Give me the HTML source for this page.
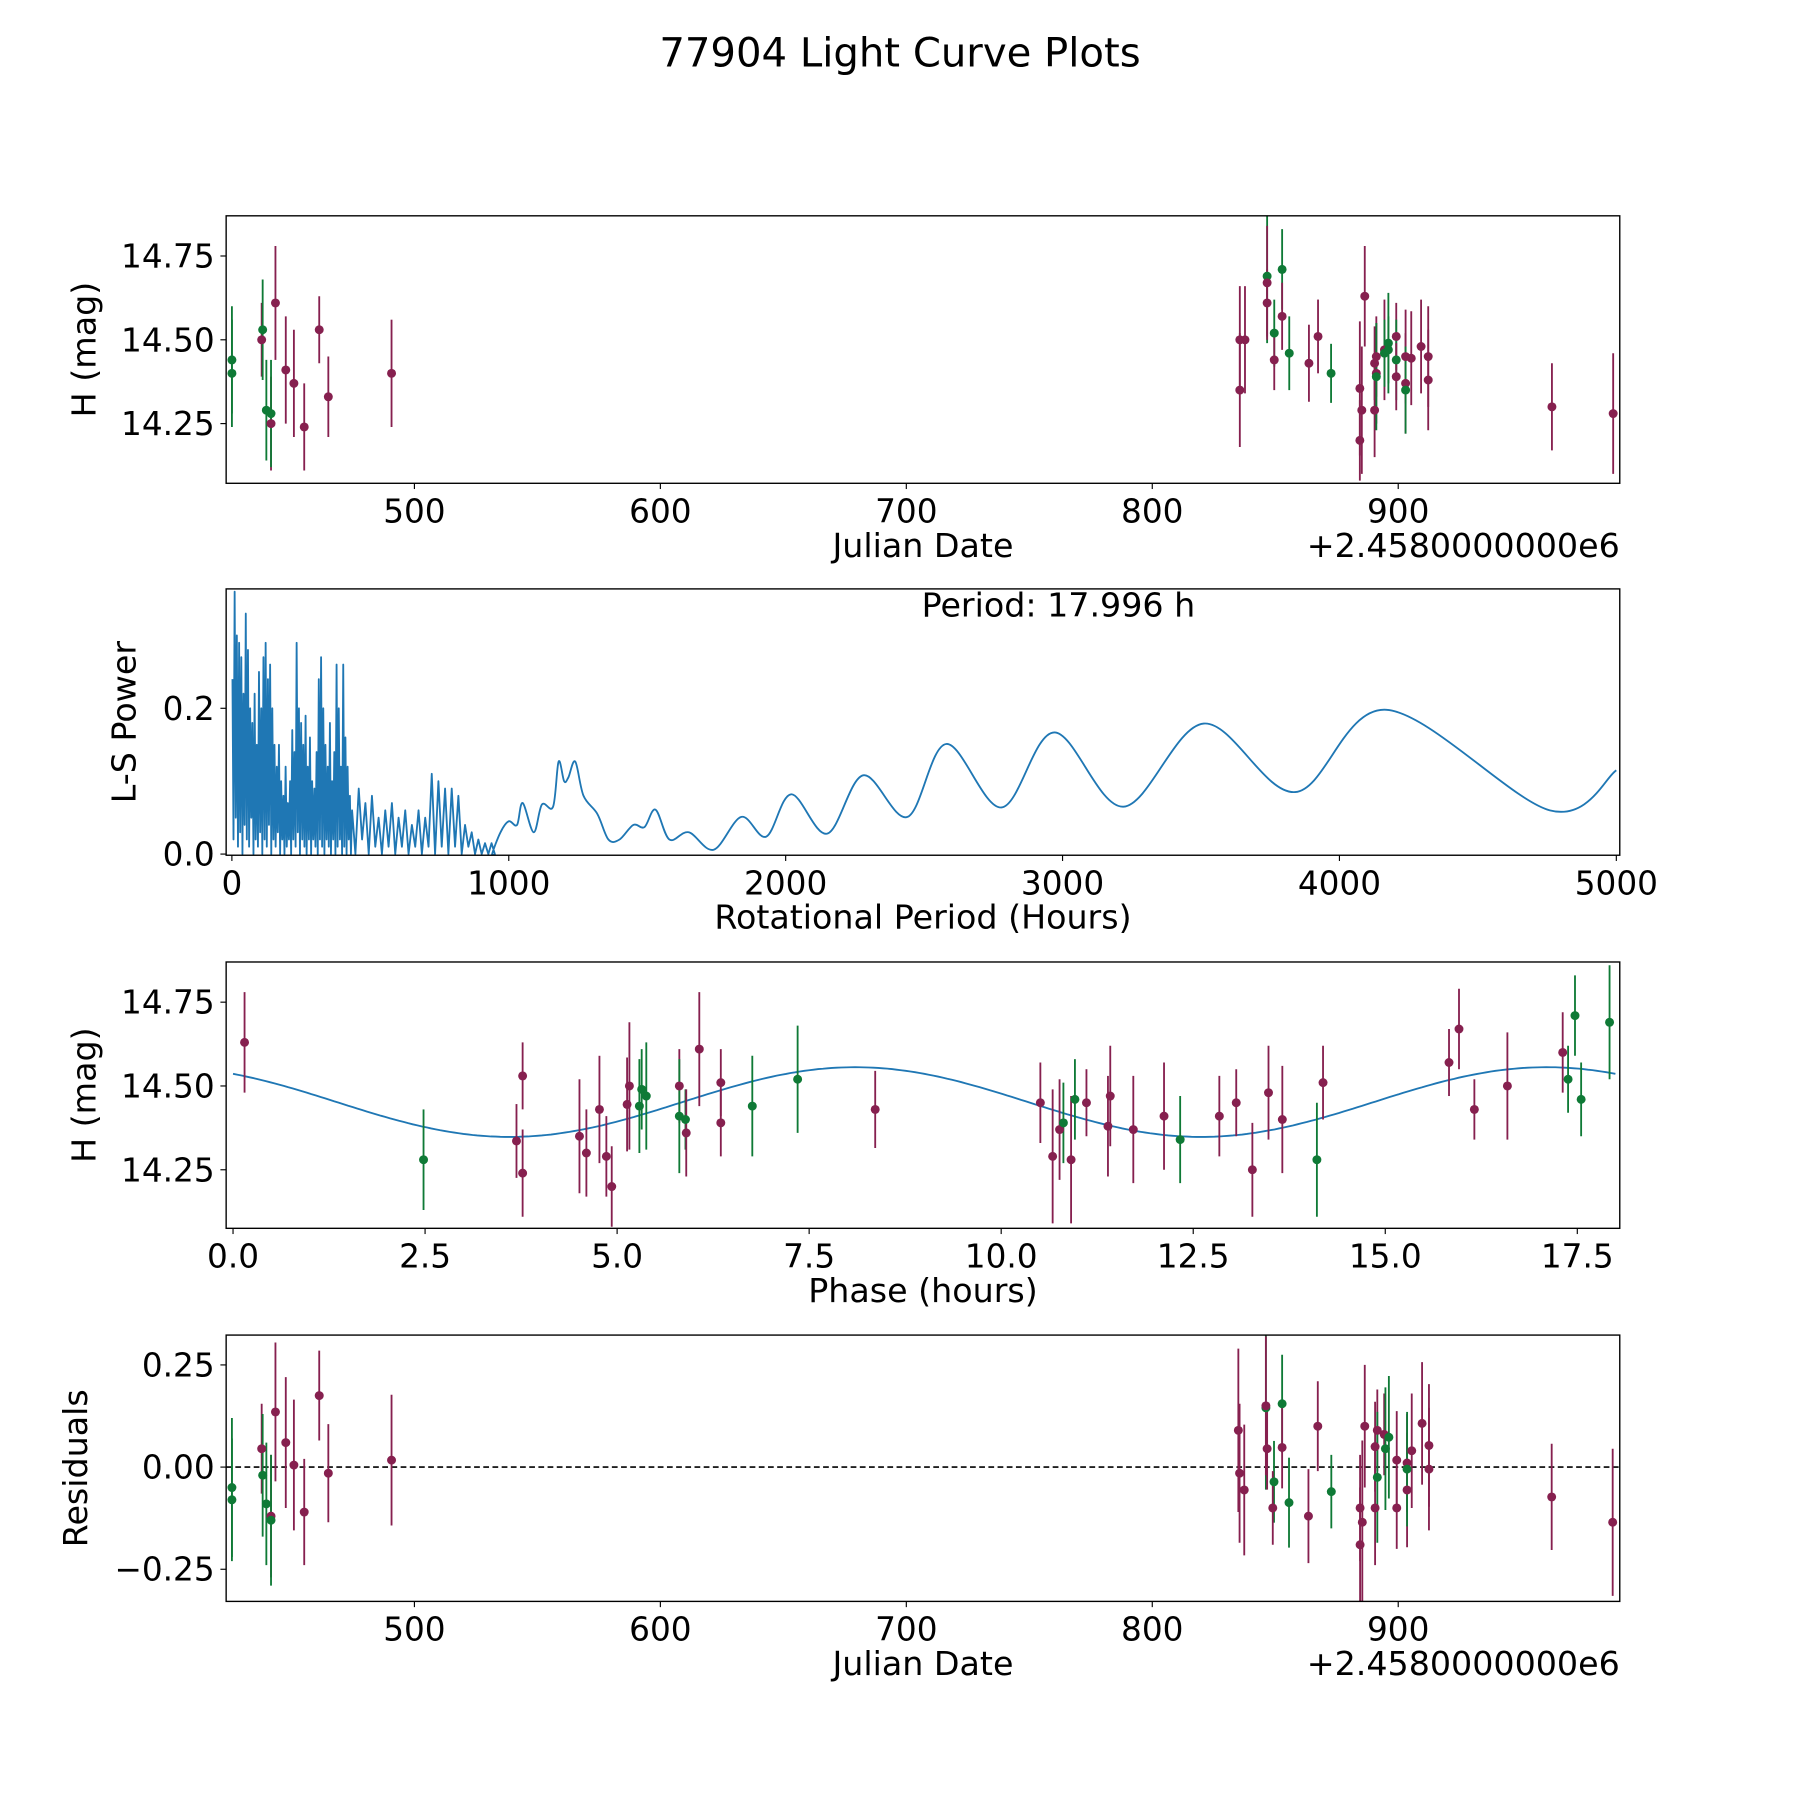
<!DOCTYPE html>
<html><head><meta charset="utf-8"><style>
html,body{margin:0;padding:0;background:#fff;}
svg{display:block;font-family:"DejaVu Sans","Liberation Sans",sans-serif;}
</style></head><body>
<svg id="fig" width="1800" height="1800" viewBox="0 0 1568 1568" xmlns="http://www.w3.org/2000/svg">
<text x="784" y="58" font-size="35" text-anchor="middle">77904 Light Curve Plots</text>
</svg>
<script>
// ---------- data ----------
const jd1 = [425.8,425.8,437.9,438.3,439.8,441.7,441.7,443.5,447.7,451.0,455.2,461.3,465.0,490.7,
 835.6,835.6,837.7,846.7,846.7,846.7,849.6,849.6,852.8,852.8,855.7,863.7,867.4,872.7,884.4,884.4,885.2,886.4,890.4,890.4,891.1,891.1,891.1,894.4,894.4,896.0,896.0,899.2,899.2,899.2,903.0,903.0,903.0,905.3,909.3,912.2,912.2,962.5,987.4];
const mag1 = [14.44,14.40,14.50,14.53,14.29,14.25,14.28,14.61,14.41,14.37,14.24,14.53,14.33,14.40,
 14.35,14.50,14.50,14.69,14.67,14.61,14.52,14.44,14.71,14.57,14.46,14.43,14.51,14.40,14.355,14.20,14.29,14.63,14.43,14.29,14.45,14.40,14.39,14.47,14.46,14.49,14.47,14.51,14.44,14.39,14.45,14.37,14.35,14.445,14.48,14.45,14.38,14.30,14.28];
const err1 = [0.16,0.16,0.11,0.15,0.15,0.14,0.16,0.17,0.16,0.16,0.13,0.10,0.12,0.16,
 0.17,0.16,0.16,0.2,0.17,0.1,0.1,0.09,0.12,0.1,0.11,0.115,0.11,0.088,0.2,0.12,0.19,0.15,0.11,0.14,0.12,0.15,0.16,0.15,0.1,0.15,0.1,0.1,0.12,0.1,0.14,0.15,0.13,0.14,0.14,0.15,0.15,0.13,0.18];
const grp1 = ["g","g","m","g","g","m","g","m","m","m","m","m","m","m",
 "m","m","m","g","m","m","g","m","g","m","g","m","m","g","m","m","m","m","m","m","m","m","g","m","g","g","g","m","g","m","m","m","g","m","m","m","m","m","m"];

const periods = [];
const power = [0.24,0.02,0.36,0.05,0.3,0.01,0.29,0.03,0.27,0.0,0.22,0.04,0.33,0.02,0.28,0.01,0.2,0.05,0.18,0.0,0.22,0.02,0.15,0.01,0.25,0.03,0.2,0.0,0.27,0.02,0.29,0.01,0.24,0.04,0.26,0.0,0.2,0.02,0.15,0.01,0.12,0.03,0.15,0.0,0.1,0.02,0.08,0.0,0.12,0.01,0.07,0.02,0.1,0.0,0.17,0.02,0.14,0.01,0.29,0.03,0.2,0.0,0.18,0.02,0.15,0.01,0.19,0.0,0.12,0.02,0.16,0.0,0.1,0.02,0.09,0.01,0.14,0.0,0.24,0.02,0.27,0.01,0.2,0.0,0.15,0.02,0.12,0.01,0.18,0.0,0.1,0.02,0.14,0.0,0.26,0.01,0.2,0.02,0.12,0.0,0.26,0.01,0.16,0.0,0.12,0.02,0.08,0.0,
 0.06,0.0,0.09,0.02,0.07,0.0,0.08,0.01,0.05,0.0,0.06,0.01,0.07,0.0,0.05,0.01,0.06,0.0,0.04,0.01,0.06,0.0,0.05,0.01,0.11,0.0,0.1,0.01,0.09,0.0,0.09,0.01,0.08,0.0,0.04,0.01,0.03,0.0,0.02,0.0,0.015,0.0,0.015,0.0];
const pLong = [940,970,1000,1030,1050,1090,1120,1160,1180,1200,1215,1240,1270,1320,1360,1400,1450,1490,1530,1580,1650,1740,1840,1930,2020,2150,2280,2440,2580,2780,2970,3220,3510,3840,4170,4760,5000];
const powLong = [0.0,0.03,0.045,0.04,0.07,0.03,0.068,0.065,0.127,0.10,0.105,0.127,0.08,0.055,0.02,0.02,0.04,0.037,0.061,0.02,0.03,0.006,0.051,0.024,0.082,0.028,0.108,0.051,0.151,0.064,0.167,0.065,0.179,0.085,0.198,0.06,0.115];

const phase3 = [0.15,2.48,3.69,3.77,3.77,4.51,4.60,4.77,4.86,4.93,5.13,5.16,5.29,5.32,5.38,5.81,5.81,5.89,5.90,6.07,6.35,6.35,6.76,7.35,8.36,10.51,10.67,10.76,10.81,10.91,10.96,11.11,11.39,11.42,11.72,12.12,12.33,12.84,13.06,13.27,13.48,13.66,14.11,14.19,15.83,15.96,16.16,16.59,17.31,17.38,17.47,17.55,17.92];
const mag3 = [14.63,14.28,14.336,14.53,14.24,14.35,14.30,14.43,14.29,14.20,14.445,14.50,14.44,14.49,14.47,14.50,14.41,14.40,14.36,14.61,14.51,14.39,14.44,14.52,14.43,14.45,14.29,14.37,14.39,14.28,14.46,14.45,14.38,14.47,14.37,14.41,14.34,14.41,14.45,14.25,14.48,14.40,14.28,14.51,14.57,14.67,14.43,14.50,14.60,14.52,14.71,14.46,14.69];
const err3 = [0.15,0.15,0.11,0.10,0.13,0.17,0.13,0.16,0.12,0.12,0.14,0.19,0.14,0.12,0.16,0.11,0.17,0.09,0.13,0.17,0.10,0.10,0.15,0.16,0.115,0.12,0.2,0.15,0.12,0.19,0.12,0.10,0.15,0.15,0.16,0.16,0.13,0.12,0.10,0.14,0.14,0.16,0.17,0.11,0.10,0.12,0.09,0.16,0.12,0.10,0.12,0.11,0.17];
const grp3 = ["m","g","m","m","m","m","m","m","m","m","m","m","g","g","g","m","g","g","m","m","m","m","g","g","m","m","m","m","g","m","g","m","m","m","m","m","g","m","m","m","m","m","g","m","m","m","m","m","m","g","g","g","g"];
const modelParams = [14.452, 0.104, 8.1, 9.0]; // mean, amplitude, phase of max, period

const jd4 = [425.8,425.8,437.9,438.3,439.8,441.7,441.7,443.5,447.7,451.0,455.2,461.3,465.0,490.7,
 835.0,835.5,837.4,846.2,846.2,846.7,849.5,849.0,852.8,852.8,855.6,863.5,867.3,872.8,884.5,884.5,885.4,886.4,890.6,890.6,891.5,891.5,894.3,894.8,896.2,899.4,899.4,903.6,903.6,903.6,905.5,909.7,912.5,912.5,962.4,987.2];
const res4 = [-0.05,-0.08,0.045,-0.02,-0.09,-0.12,-0.13,0.135,0.06,0.005,-0.11,0.175,-0.015,0.017,
 0.09,-0.015,-0.056,0.145,0.15,0.045,-0.036,-0.10,0.155,0.048,-0.087,-0.12,0.10,-0.06,-0.10,-0.19,-0.135,0.10,0.05,-0.10,0.09,-0.025,0.08,0.045,0.073,0.017,-0.10,0.01,-0.056,-0.005,0.04,0.107,0.053,-0.005,-0.073,-0.135];
const err4 = [0.17,0.15,0.11,0.15,0.15,0.15,0.16,0.17,0.16,0.16,0.13,0.11,0.12,0.16,
 0.2,0.17,0.16,0.2,0.17,0.1,0.1,0.09,0.12,0.1,0.11,0.115,0.11,0.09,0.13,0.14,0.2,0.15,0.11,0.14,0.1,0.16,0.1,0.15,0.15,0.12,0.1,0.12,0.14,0.14,0.14,0.15,0.15,0.15,0.13,0.18];
const grp4 = ["g","g","m","g","g","m","g","m","m","m","m","m","m","m",
 "m","m","m","g","m","m","g","m","g","m","g","m","m","g","m","m","m","m","m","m","m","g","m","g","g","m","m","m","m","g","m","m","m","m","m","m"];

const jdTicks = [500,600,700,800,900];
const magTicks = [14.25,14.50,14.75];
const magTickLabels = ["14.25","14.50","14.75"];
const perTicks = [0,1000,2000,3000,4000,5000];
const powTicks = [0.0,0.2];
const powTickLabels = ["0.0","0.2"];
const phTicks = [0,2.5,5,7.5,10,12.5,15,17.5];
const phTickLabels = ["0.0","2.5","5.0","7.5","10.0","12.5","15.0","17.5"];
const resTicks = [-0.25,0,0.25];
const resTickLabels = ["\u22120.25","0.00","0.25"];

// ---------- drawing ----------
const NS = "http://www.w3.org/2000/svg";
const svg = document.getElementById('fig');
const COL = {m:"#86204f", g:"#0f7a36"};
const L = 197, R = 1411;
const FT = 28.5, FL = 29;
function mk(tag, attrs, parent){ const e=document.createElementNS(NS,tag); for(const k in attrs) e.setAttribute(k,attrs[k]); (parent||svg).appendChild(e); return e; }
function scale(d0,d1,r0,r1){ return v => r0 + (v-d0)/(d1-d0)*(r1-r0); }

function axesFrame(name, top, bot, xs, ys, xt, xtl, yt, ytl, xlabel, ylabel, ylabelX){
  const g = mk('g',{});
  
  
  const clipId = name+'-clip';
  const cp = mk('clipPath',{id:clipId},g);
  mk('rect',{x:L,y:top,width:R-L,height:bot-top},cp);
  xt.forEach((t,i)=>{
    const x = xs(t);
    const tk = mk('line',{x1:x,x2:x,y1:bot,y2:bot+5,stroke:'#000','stroke-width':1},g);
    
    
    const tl = mk('text',{x:x,y:bot+34,'font-size':FT,'text-anchor':'middle'},g);
    tl.textContent = xtl[i];
    
    
  });
  yt.forEach((t,i)=>{
    const y = ys(t);
    mk('line',{x1:L-5,x2:L,y1:y,y2:y,stroke:'#000','stroke-width':1},g);
    const tl = mk('text',{x:L-10,y:y+10,'font-size':FT,'text-anchor':'end'},g);
    tl.textContent = ytl[i];
    
    
  });
  const xl = mk('text',{x:(L+R)/2,y:bot+64,'font-size':FL,'text-anchor':'middle'},g);
  xl.textContent = xlabel;
  
  
  const yc=(top+bot)/2;
  const yl = mk('text',{x:ylabelX,y:yc,'font-size':FL,'text-anchor':'middle',transform:`rotate(-90 ${ylabelX} ${yc})`},g);
  yl.textContent = ylabel;
  
  
  const plot = mk('g',{'clip-path':`url(#${clipId})`},g);
  return {g, plot, finish(){ const fr=mk('rect',{x:L,y:top,width:R-L,height:bot-top,fill:'none',stroke:'#000','stroke-width':1.2},g);   }};
}

function errPoints(plot, xs, ys, X, Y, E, G){
  X.forEach((x,i)=>{
    const c = COL[G[i]];
    const px = xs(x);
    const bar = mk('line',{x1:px,x2:px,y1:ys(Y[i]-E[i]),y2:ys(Y[i]+E[i]),stroke:c,'stroke-width':1.6},plot);
    
    
  });
  X.forEach((x,i)=>{
    const pt = mk('circle',{cx:xs(x),cy:ys(Y[i]),r:3.9,fill:COL[G[i]]},plot);
    
    
  });
}

// Panel 1
{
  const top=188,bot=421;
  const xs=scale(500,900,361,1218), ys=scale(14.25,14.75,369,223);
  const a=axesFrame('light-curve-panel',top,bot,xs,ys,jdTicks,jdTicks.map(String),magTicks,magTickLabels,'Julian Date','H (mag)',83);
  errPoints(a.plot,xs,ys,jd1,mag1,err1,grp1);
  a.finish();
  const off=mk('text',{x:R,y:bot+64,'font-size':FL,'text-anchor':'end'},a.g);
  off.textContent='+2.4580000000e6';
  
  
}
// Panel 2
{
  const top=513,bot=745;
  const xs=scale(0,5000,202,1408), ys=scale(0,0.2,744,617);
  const a=axesFrame('periodogram-panel',top,bot,xs,ys,perTicks,perTicks.map(String),powTicks,powTickLabels,'Rotational Period (Hours)','L-S Power',118);
  const n1 = 108;
  for(let i=0;i<power.length;i++){ periods.push(i<n1 ? 2+i*4 : 2+n1*4 + (i-n1)*12); }
  let d='';
  periods.forEach((p,i)=>{ d += (i?'L':'M')+xs(p).toFixed(1)+' '+ys(power[i]).toFixed(1); });
  const P = [[periods[periods.length-1],power[power.length-1]]].concat(pLong.map((p,i)=>[p,powLong[i]]));
  const pts = P.map(q=>[xs(q[0]),ys(q[1])]);
  for(let i=0;i<pts.length-1;i++){
    const p0=pts[Math.max(0,i-1)],p1=pts[i],p2=pts[i+1],p3=pts[Math.min(pts.length-1,i+2)];
    const c1=[p1[0]+(p2[0]-p0[0])/6,p1[1]+(p2[1]-p0[1])/6];
    const c2=[p2[0]-(p3[0]-p1[0])/6,p2[1]-(p3[1]-p1[1])/6];
    d+=`C${c1[0].toFixed(1)} ${c1[1].toFixed(1)} ${c2[0].toFixed(1)} ${c2[1].toFixed(1)} ${p2[0].toFixed(1)} ${p2[1].toFixed(1)}`;
  }
  const ln=mk('path',{d:d,fill:'none',stroke:'#1f77b4','stroke-width':1.6,'stroke-linejoin':'round'},a.plot);
  
  
  a.finish();
  const ann=mk('text',{x:922,y:537,'font-size':FL,'text-anchor':'middle'},a.g);
  ann.textContent='Period: 17.996 h';
  
  
}
// Panel 3
{
  const top=838,bot=1070;
  const xs=scale(0,17.5,203,1374), ys=scale(14.25,14.75,1019,873);
  const a=axesFrame('phase-panel',top,bot,xs,ys,phTicks,phTickLabels,magTicks,magTickLabels,'Phase (hours)','H (mag)',83);
  let d='';
  const [mu,amp,ph0,per]=modelParams;
  for(let i=0;i<=300;i++){ const p=i/300*17.996; const v=mu+amp*Math.cos(2*Math.PI*(p-ph0)/per); d+=(i?'L':'M')+xs(p).toFixed(1)+' '+ys(v).toFixed(1); }
  const m=mk('path',{d:d,fill:'none',stroke:'#1f77b4','stroke-width':1.6},a.plot);
  
  
  errPoints(a.plot,xs,ys,phase3,mag3,err3,grp3);
  a.finish();
}
// Panel 4
{
  const top=1163,bot=1395;
  const xs=scale(500,900,361,1218), ys=scale(0,0.25,1278,1189);
  const a=axesFrame('residuals-panel',top,bot,xs,ys,jdTicks,jdTicks.map(String),resTicks,resTickLabels,'Julian Date','Residuals',76);
  const z=mk('line',{x1:L,x2:R,y1:ys(0),y2:ys(0),stroke:'#000','stroke-width':1.4,'stroke-dasharray':'5,3'},a.plot);
  
  
  errPoints(a.plot,xs,ys,jd4,res4,err4,grp4);
  a.finish();
  const off=mk('text',{x:R,y:bot+64,'font-size':FL,'text-anchor':'end'},a.g);
  off.textContent='+2.4580000000e6';
  
  
}
</script>
</body></html>
